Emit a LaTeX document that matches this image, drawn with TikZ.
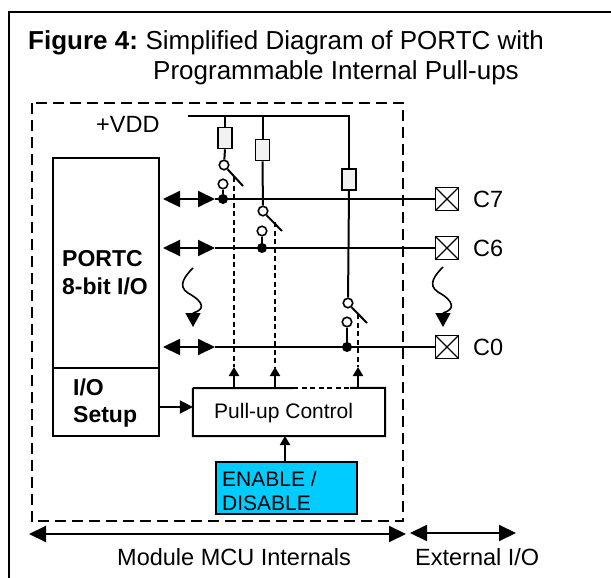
\documentclass[tikz,border=0pt]{standalone}
\usepackage{fontspec}
\setmainfont{Liberation Sans}
\usetikzlibrary{arrows.meta}
\definecolor{encyan}{HTML}{00CCFF}
\tikzset{
  bigtip/.tip={Triangle[length=17pt,width=16pt]},
  midtip/.tip={Triangle[length=13pt,width=13pt]},
  smalltip/.tip={Triangle[length=9pt,width=10pt]},
  wavetip/.tip={Triangle[length=14pt,width=15pt]},
}
\begin{document}
\begin{tikzpicture}[x=1pt,y=-1pt,
  wire/.style={line width=2pt},
  frameline/.style={line width=1.7pt},
  dashbox/.style={line width=2.1pt, dash pattern=on 11pt off 6pt},
  ctrl/.style={line width=1.7pt, dash pattern=on 5pt off 3.5pt},
  txt/.style={anchor=base west, inner sep=0pt},
  boxnode/.style={inner sep=0pt},
  res/.style={draw, line width=1.6pt, fill=gray!10, minimum width=14pt, minimum height=21pt, inner sep=0pt},
  pin/.style={draw, line width=1.7pt, minimum size=23pt, inner sep=0pt,
    path picture={\draw[line width=1.4pt] (path picture bounding box.south west) -- (path picture bounding box.north east) (path picture bounding box.north west) -- (path picture bounding box.south east);}},
  sw/.style={circle, draw, line width=1.6pt, fill=white, minimum size=9.5pt, inner sep=0pt},
  titlef/.style={font=\fontsize{26}{30}\selectfont},
  labf/.style={font=\fontsize{23.5}{27}\selectfont},
  boldf/.style={font=\fontsize{23}{27}\selectfont\bfseries},
  smallf/.style={font=\fontsize{21}{25}\selectfont},
]
\useasboundingbox (0,0) rectangle (611,578);
% outer frame
\coordinate (fr1) at (9,578);
\coordinate (fr2) at (9,12);
\coordinate (fr3) at (611,12);
\draw[frameline] (fr1) -- (fr2) -- (fr3);
% title
\node[txt, titlef] (title1) at (28,50) {\textbf{Figure 4:}\hspace{-2pt} Simplified Diagram of PORTC with};
\node[txt, titlef] (title2) at (153,80) {Programmable Internal Pull-ups};
% dashed module box
\node[boxnode, minimum width=371pt, minimum height=418pt] (module) at (217.5,312) {};
\draw[dashbox] (module.north west) rectangle (module.south east);
% VDD
\node[txt, labf] (vdd) at (96,132) {+VDD};
\coordinate (vddL) at (188,116);
% resistors
\node[res] (r1) at (225,138) {};
\node[res] (r2) at (262.5,150) {};
\node[res] (r3) at (349,179.5) {};
\draw[wire] (vddL) -| (r3.north);
\draw[wire] (r1.north |- vddL) -- (r1.north);
\draw[wire] (r2.north |- vddL) -- (r2.north);
% switches
\node[sw] (s1a) at (224,165) {};
\node[sw] (s1b) at (223,184) {};
\node[sw] (s2a) at (263,211) {};
\node[sw] (s2b) at (262,231) {};
\node[sw] (s3a) at (348,303) {};
\node[sw] (s3b) at (347,322) {};
\coordinate (j7) at (223,199);
\coordinate (j6) at (262,248);
\coordinate (j0) at (347,347);
\draw[wire] (r1.south) -- (s1a);
\draw[wire] (r2.south) -- (s2a);
\draw[wire] (r3.south) -- (s3a);
\draw[wire] (s1a.-50) -- (243,186);
\draw[wire] (s2a.-50) -- (282,231);
\draw[wire] (s3a.-50) -- (367,323);
\draw[wire] (s1b) -- (j7);
\draw[wire] (s2b) -- (j6);
\draw[wire] (s3b) -- (j0);
% PORTC box
\node[boxnode, minimum width=106pt, minimum height=278pt] (portc) at (106,297) {};
\draw[wire] (portc.north west) rectangle (portc.south east);
\coordinate (divL) at (53,368);
\coordinate (divR) at (159,368);
\draw[wire] (divL) -- (divR);
\node[txt, boldf] (portc1) at (62,266) {PORTC};
\node[txt, boldf] (portc2) at (62,294) {8-bit I/O};
\node[txt, boldf] (setup1) at (73,395) {I/O};
\node[txt, boldf] (setup2) at (73,422) {Setup};
% pins
\node[pin] (c7) at (447,199) {};
\node[pin] (c6) at (447,248) {};
\node[pin] (c0) at (447,347) {};
\node[txt, labf] (c7l) at (473,207.5) {C7};
\node[txt, labf] (c6l) at (473,256.5) {C6};
\node[txt, labf] (c0l) at (473,355.5) {C0};
% port lines with bidirectional arrows
\coordinate (a7l) at (163,199); \coordinate (a7r) at (215,199);
\coordinate (a6l) at (163,248); \coordinate (a6r) at (215,248);
\coordinate (a0l) at (163,347); \coordinate (a0r) at (215,347);
\draw[wire, {bigtip}-{bigtip}] (a7l) -- (a7r);
\draw[wire, {bigtip}-{bigtip}] (a6l) -- (a6r);
\draw[wire, {bigtip}-{bigtip}] (a0l) -- (a0r);
\draw[wire] (a7r) -- (c7.west);
\draw[wire] (a6r) -- (c6.west);
\draw[wire] (a0r) -- (c0.west);
\fill (j7) circle (5);
\fill (j6) circle (5);
\fill (j0) circle (5);
% wavy arrows
\coordinate (wl) at (193,268);
\coordinate (wlb) at (193,313);
\coordinate (wlt) at (193,327);
\draw[line width=1.6pt] (wl) .. controls (185,276) and (177,286) .. (188,293)
  .. controls (206,303) and (204,310) .. (wlb);
\draw[line width=1.6pt, -{wavetip}] (wlb) -- (wlt);
\coordinate (wr) at (443,267);
\coordinate (wrb) at (443,313);
\coordinate (wrt) at (443,327);
\draw[line width=1.6pt] (wr) .. controls (435,275) and (427,285) .. (438,292)
  .. controls (456,302) and (454,310) .. (wrb);
\draw[line width=1.6pt, -{wavetip}] (wrb) -- (wrt);
% pull-up control
\node[boxnode, minimum width=192pt, minimum height=48pt] (pull) at (289,412) {};
\draw[wire] (293,388) -| (pull.north west) -- (pull.south west) -- (pull.south east) -- (pull.north east) -- (350,388);
\draw[ctrl] (293,388) -- (350,388);
\node[txt, smallf] (pulltext) at (214,418) {Pull-up Control};
% control lines
\coordinate (k1t) at (234,367); \coordinate (k1b) at (234,388); \coordinate (k1s) at (234,177);
\coordinate (k2t) at (275,367); \coordinate (k2b) at (275,388); \coordinate (k2s) at (275,222);
\coordinate (k3t) at (358,367); \coordinate (k3b) at (358,388); \coordinate (k3s) at (358,314);
\draw[ctrl] (k1s) -- (k1t);
\draw[ctrl] (k2s) -- (k2t);
\draw[ctrl] (k3s) -- (k3t);
\draw[wire, -{smalltip}] (k1b) -- (k1t);
\draw[wire, -{smalltip}] (k2b) -- (k2t);
\draw[wire, -{smalltip}] (k3b) -- (k3t);
% setup arrow
\draw[wire, -{midtip}] (159,407) -- (pull.west |- 0,407);
% enable box
\node[boxnode, fill=encyan, minimum width=141pt, minimum height=52pt] (enable) at (286.5,488) {};
\node[txt, smallf] (en1) at (222,486) {ENABLE /};
\begin{scope}
\clip (enable.north west) rectangle (enable.south east);
\node[txt, smallf] (en2) at (222,510) {DISABLE};
\end{scope}
\draw[line width=1.8pt] (enable.north west) rectangle (enable.south east);
\draw[wire, -{smalltip}] (285,462) -- (285,436);
% bottom arrows
\coordinate (m1) at (29,534); \coordinate (m2) at (406,534);
\coordinate (e1) at (410,533); \coordinate (e2) at (516,533);
\draw[wire, {bigtip}-{bigtip}] (m1) -- (m2);
\draw[wire, {bigtip}-{bigtip}] (e1) -- (e2);
\node[txt, labf] (modtxt) at (117,565) {Module MCU Internals};
\node[txt, labf] (exttxt) at (415,565) {External I/O};
\end{tikzpicture}
\end{document}
